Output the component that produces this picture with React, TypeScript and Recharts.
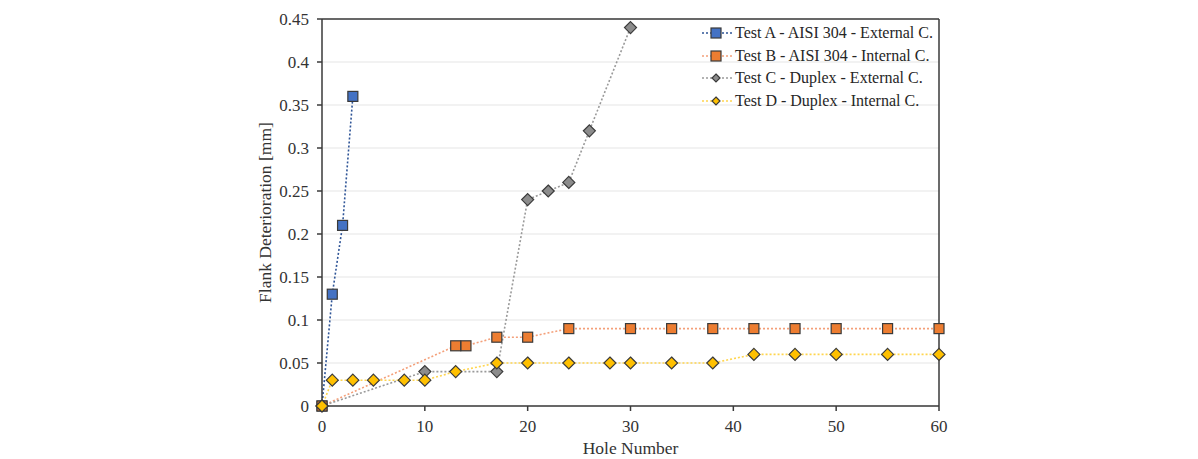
import React from "react";
import { LineChart, Line, XAxis, YAxis, CartesianGrid, ReferenceLine } from "recharts";

// hole numbers and flank wear
const holesA = [0, 1, 2, 3];
const wearA = [0, 0.13, 0.21, 0.36];

const holesB = [0, 13, 14, 17, 20, 24, 30, 34, 38, 42, 46, 50, 55, 60];
const wearB = [0, 0.07, 0.07, 0.08, 0.08, 0.09, 0.09, 0.09, 0.09, 0.09, 0.09, 0.09, 0.09, 0.09];

const holesC = [0, 10, 17, 20, 22, 24, 26, 30];
const wearC = [0, 0.04, 0.04, 0.24, 0.25, 0.26, 0.32, 0.44];

const holesD = [0, 1, 3, 5, 8, 10, 13, 17, 20, 24, 28, 30, 34, 38, 42, 46, 50, 55, 60];
const wearD = [0, 0.03, 0.03, 0.03, 0.03, 0.03, 0.04, 0.05, 0.05, 0.05, 0.05, 0.05, 0.05, 0.05, 0.06, 0.06, 0.06, 0.06, 0.06];

const xTicks = [0, 10, 20, 30, 40, 50, 60];
const yTicks = [0, 0.05, 0.1, 0.15, 0.2, 0.25, 0.3, 0.35, 0.4, 0.45];

const seriesNames = [
  "Test A - AISI 304 - External C.",
  "Test B - AISI 304 - Internal C.",
  "Test C - Duplex - External C.",
  "Test D - Duplex - Internal C.",
];

const toRows = (holes: number[], wear: number[]) => holes.map((h, i) => ({ hole: h, wear: wear[i] }));

const FONT = "'Liberation Serif', 'DejaVu Serif', serif";
const EDGE = "#3a3a3a";

const series = [
  { name: seriesNames[0], data: toRows(holesA, wearA), fill: "#4472C4", line: "#2F5597", shape: "square" },
  { name: seriesNames[1], data: toRows(holesB, wearB), fill: "#ED7D31", line: "#F4A07A", shape: "square" },
  { name: seriesNames[2], data: toRows(holesC, wearC), fill: "#8C8C8C", line: "#9A9A9A", shape: "diamond" },
  { name: seriesNames[3], data: toRows(holesD, wearD), fill: "#FFC000", line: "#FFD54F", shape: "diamond" },
];

function Marker({ cx, cy, fill, shape, size = 5 }: any) {
  if (cx == null || cy == null) return null;
  if (shape === "square") {
    return <rect x={cx - size} y={cy - size} width={size * 2} height={size * 2} fill={fill} stroke={EDGE} strokeWidth={1.2} />;
  }
  const s = size + 1;
  return (
    <polygon
      points={`${cx},${cy - s} ${cx + s},${cy} ${cx},${cy + s} ${cx - s},${cy}`}
      fill={fill}
      stroke={EDGE}
      strokeWidth={1.2}
    />
  );
}

function LegendBox() {
  return (
    <div style={{ position: "absolute", left: 701, top: 22, fontFamily: FONT, fontSize: 16, color: "#262626" }}>
      {series.map((s) => (
        <div key={s.name} style={{ display: "flex", alignItems: "center", height: 22.5 }}>
          <svg width={32} height={16} style={{ marginRight: 2 }}>
            <line x1={1} y1={8} x2={31} y2={8} stroke={s.line} strokeWidth={1.5} strokeDasharray="2 2" />
            <Marker cx={15} cy={8} fill={s.fill} shape={s.shape} size={s.shape === "square" ? 5 : 3} />
          </svg>
          <span>{s.name}</span>
        </div>
      ))}
    </div>
  );
}

export default function App() {
  const tickStyle = { fontFamily: FONT, fontSize: 17, fill: "#333" };
  return (
    <div style={{ position: "absolute", left: 0, top: 0, width: 1198, height: 459, background: "#fff" }}>
      <LineChart width={1198} height={459} margin={{ top: 19, right: 259, bottom: 0, left: 262 }}>
        <CartesianGrid vertical={false} stroke="#e6e6e6" strokeWidth={1.2} />
        <XAxis
          type="number"
          dataKey="hole"
          domain={[0, 60]}
          ticks={xTicks}
          height={53}
          tickSize={5}
          tickMargin={9}
          stroke={EDGE}
          strokeWidth={1.5}
          tick={tickStyle}
          label={{ value: "Hole Number", position: "insideBottom", offset: 5, style: { ...tickStyle, fontSize: 17.5 } }}
        />
        <YAxis
          type="number"
          domain={[0, 0.45]}
          ticks={yTicks}
          width={60}
          tickSize={5}
          tickMargin={8}
          stroke={EDGE}
          strokeWidth={1.5}
          tick={tickStyle}
          label={{
            value: "Flank Deterioration [mm]",
            angle: -90,
            position: "insideLeft",
            offset: 3,
            style: { ...tickStyle, fontSize: 17.5, textAnchor: "middle" },
          }}
        />
        <ReferenceLine y={0.45} stroke={EDGE} strokeWidth={1.5} />
        <ReferenceLine x={60} stroke={EDGE} strokeWidth={1.5} />
        {series.map((s) => (
          <Line
            key={s.name}
            data={s.data}
            dataKey="wear"
            name={s.name}
            type="linear"
            stroke={s.line}
            strokeWidth={1.6}
            strokeDasharray="2 2"
            isAnimationActive={false}
            dot={(p: any) => <Marker key={`${s.name}-${p.index}`} cx={p.cx} cy={p.cy} fill={s.fill} shape={s.shape} />}
            activeDot={false}
          />
        ))}
      </LineChart>
      <LegendBox />
    </div>
  );
}
